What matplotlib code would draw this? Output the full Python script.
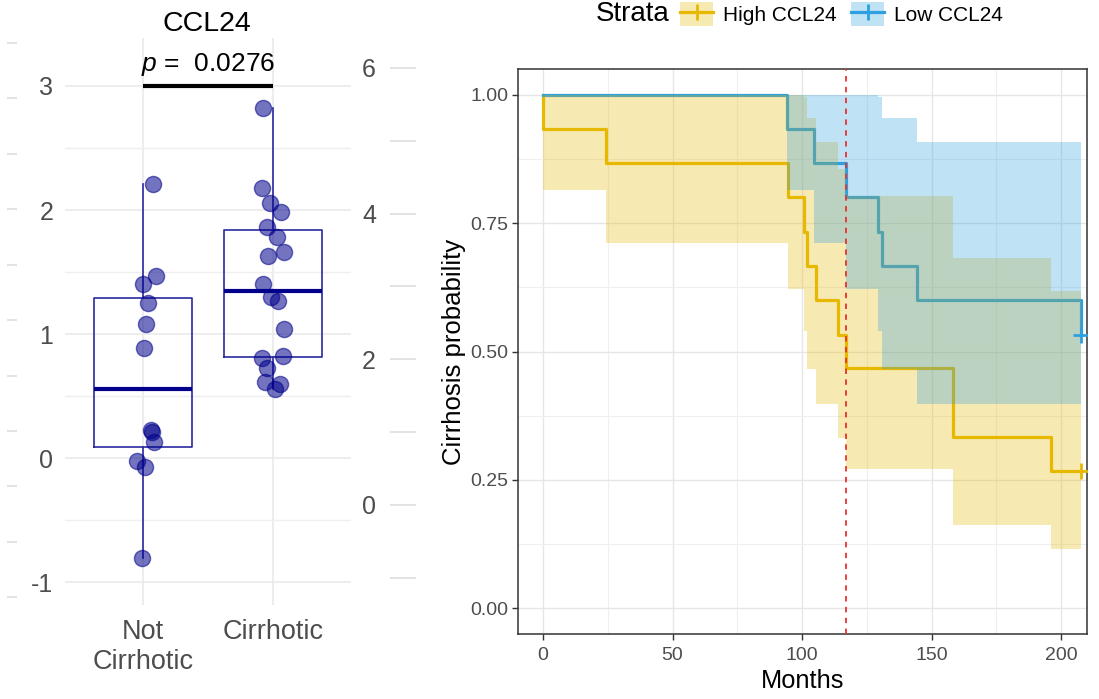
import numpy as np
import matplotlib
matplotlib.use("Agg")
import matplotlib.pyplot as plt
from matplotlib.patches import Patch
from matplotlib.lines import Line2D

plt.rcParams["font.family"] = ["Liberation Sans", "DejaVu Sans"]
plt.rcParams["mathtext.fontset"] = "custom"
plt.rcParams["mathtext.it"] = "Liberation Sans:italic"
plt.rcParams["mathtext.rm"] = "Liberation Sans"
plt.rcParams["axes.unicode_minus"] = False

# ---- data: CCL24 boxplot ----
groups = ["Not\nCirrhotic", "Cirrhotic"]
not_cirrhotic = [2.21, 1.47, 1.40, 1.25, 1.08, 0.89, 0.23, 0.21, 0.13, -0.02, -0.07, -0.81]
not_cirrhotic_jitter = [0.08, 0.10, 0.0, 0.04, 0.02, 0.01, 0.06, 0.07, 0.085, -0.045, 0.015, -0.01]
cirrhotic = [2.82, 2.18, 2.06, 1.98, 1.86, 1.78, 1.66, 1.63, 1.40, 1.30, 1.27, 1.04,
             0.82, 0.81, 0.73, 0.61, 0.60, 0.56]
cirrhotic_jitter = [-0.077, -0.085, -0.023, 0.06, -0.046, 0.03, 0.085, -0.04, -0.077, -0.015,
                    0.04, 0.085, 0.077, -0.085, -0.046, -0.06, 0.054, 0.015]
p_label = r"$\it{p}$ =  0.0276"

# ---- data: Kaplan-Meier curves (months, probability, CI) ----
high_t = [0, 0, 24.2, 94.4, 100.8, 102.1, 105.2, 113.7, 116.9, 158.3, 196.0, 207.5]
high_s = [1.0, 0.933, 0.867, 0.800, 0.733, 0.667, 0.600, 0.533, 0.467, 0.333, 0.267, 0.267]
high_lo = [1.0, 0.815, 0.711, 0.621, 0.540, 0.466, 0.397, 0.332, 0.272, 0.163, 0.115, 0.115]
high_hi = [1.0, 1.0, 1.0, 1.0, 0.995, 0.954, 0.907, 0.856, 0.802, 0.682, 0.617, 0.617]

low_t = [0, 94.1, 104.8, 116.9, 129.3, 130.7, 144.5, 207.5]
low_s = [1.0, 0.933, 0.867, 0.800, 0.733, 0.667, 0.600, 0.533]
low_lo = [1.0, 0.815, 0.711, 0.621, 0.540, 0.466, 0.397, 0.397]
low_hi = [1.0, 1.0, 1.0, 1.0, 0.995, 0.954, 0.907, 0.907]

cutoff_month = 117
strata = ["High CCL24", "Low CCL24"]
colors = ["#E7B800", "#2E9FDF"]

W, H = 1099, 699


def fx(px):
    return px / W


def fy(py):
    return 1 - py / H


fig = plt.figure(figsize=(10.99, 6.99), dpi=100)

# ================= left panel =================
ax = fig.add_axes([fx(65), fy(605), fx(351) - fx(65), fy(38) - fy(605)])
navy = "#00008B"
ax.boxplot([not_cirrhotic, cirrhotic], positions=[1, 2], widths=0.75,
           showcaps=False, showfliers=False,
           boxprops=dict(color="#2a2aa0", lw=1.2),
           whiskerprops=dict(color="#2a2aa0", lw=1.2),
           medianprops=dict(color=navy, lw=3), zorder=2)
ax.scatter(1 + np.array(not_cirrhotic_jitter), not_cirrhotic, s=135, color=navy,
           alpha=0.55, linewidths=1, zorder=3)
ax.scatter(2 + np.array(cirrhotic_jitter), cirrhotic, s=135, color=navy,
           alpha=0.55, linewidths=1, zorder=3)

ax.plot([1, 2], [3.0, 3.0], color="black", lw=3, solid_capstyle="butt", zorder=4)
ax.text(1.5, 3.17, p_label, ha="center", va="center", fontsize=19)

ax.set_xlim(0.4, 2.6)
ax.set_ylim(-1.185, 3.387)
ax.set_xticks([1, 2])
ax.set_xticklabels(groups)
ax.set_yticks([-1, 0, 1, 2, 3])
ax.set_yticks([-0.5, 0.5, 1.5, 2.5], minor=True)
ax.grid(True, which="major", color="#E8E8E8", lw=1.1, zorder=0)
ax.grid(True, which="minor", axis="y", color="#EFEFEF", lw=1.0, zorder=0)
ax.set_axisbelow(True)
for s in ax.spines.values():
    s.set_visible(False)
ax.tick_params(axis="both", which="both", length=0, colors="#4D4D4D")
ax.tick_params(axis="y", pad=8.5, labelsize=18)
ax.tick_params(axis="x", pad=10, labelsize=19.5)

ax2 = ax.twinx()
ax2.set_ylim(-1.373, 6.41)
ax2.set_yticks([0, 2, 4, 6])
for s in ax2.spines.values():
    s.set_visible(False)
ax2.tick_params(axis="y", length=0, labelsize=18, colors="#4D4D4D", pad=8)

# faint gridline stubs of neighbouring panels
ax2.hlines(range(-1, 7), 1.136, 1.227, transform=ax2.get_yaxis_transform(),
           color="#E3E3E3", lw=1.4, clip_on=False)
ax.hlines(3.347 - 0.447 * np.arange(11), -0.203, -0.168,
          transform=ax.get_yaxis_transform(), color="#E3E3E3", lw=1.4, clip_on=False)

fig.text(fx(207), fy(24), "CCL24", ha="center", va="center", fontsize=20.5)

# ================= right panel =================
ax3 = fig.add_axes([fx(518), fy(634), fx(1087) - fx(518), fy(69) - fy(634)])

ax3.plot(high_t, high_s, drawstyle="steps-post", color=colors[0], lw=2.3, zorder=2)
ax3.plot(low_t, low_s, drawstyle="steps-post", color=colors[1], lw=2.3, zorder=2)
ax3.fill_between(high_t, high_lo, high_hi, step="post", color=colors[0], alpha=0.3,
                 lw=0, zorder=3)
ax3.fill_between(low_t, low_lo, low_hi, step="post", color=colors[1], alpha=0.3,
                 lw=0, zorder=3)
ax3.plot(high_t[-1], high_s[-1], marker="+", ms=12, mew=2, color=colors[0], zorder=4)
ax3.plot(low_t[-1], low_s[-1], marker="+", ms=12, mew=2, color=colors[1], zorder=4)
ax3.axvline(cutoff_month, color="#E8312F", ls=(0, (3, 3)), lw=1.3, zorder=5)

ax3.set_xlim(-9.65, 210)
ax3.set_ylim(-0.05, 1.05)
ax3.set_xticks([0, 50, 100, 150, 200])
ax3.set_xticks([25, 75, 125, 175], minor=True)
ax3.set_yticks([0, 0.25, 0.5, 0.75, 1.0])
ax3.set_yticklabels(["0.00", "0.25", "0.50", "0.75", "1.00"])
ax3.set_yticks([0.125, 0.375, 0.625, 0.875], minor=True)
ax3.grid(True, which="major", color="#E6E6E6", lw=1.0)
ax3.grid(True, which="minor", color="#EFEFEF", lw=0.8)
ax3.set_axisbelow(True)
for s in ax3.spines.values():
    s.set_color("#333333")
    s.set_linewidth(1.1)
ax3.tick_params(which="major", length=4, width=1, color="#333333",
                labelcolor="#4D4D4D", labelsize=14, pad=3)
ax3.tick_params(axis="x", which="major", pad=5)
ax3.tick_params(which="minor", length=0)
ax3.set_xlabel("Months", fontsize=18.3, labelpad=4)
ax3.set_ylabel("Cirrhosis probability", fontsize=18.5, labelpad=3)

# legend on top
fig.text(fx(596), fy(14), "Strata", fontsize=20, ha="left", va="center")
handles = [(Patch(facecolor=c, alpha=0.3, lw=0),
            Line2D([], [], color=c, lw=2.3, marker="+", ms=12, mew=2)) for c in colors]
fig.legend(handles, strata, loc="center left", bbox_to_anchor=(fx(680), fy(14)),
           ncol=2, frameon=False, fontsize=15, handlelength=1.6, handleheight=1.35,
           handletextpad=0.45, columnspacing=0.7, borderpad=0, borderaxespad=0)

fig.savefig("out.png", dpi=100)
